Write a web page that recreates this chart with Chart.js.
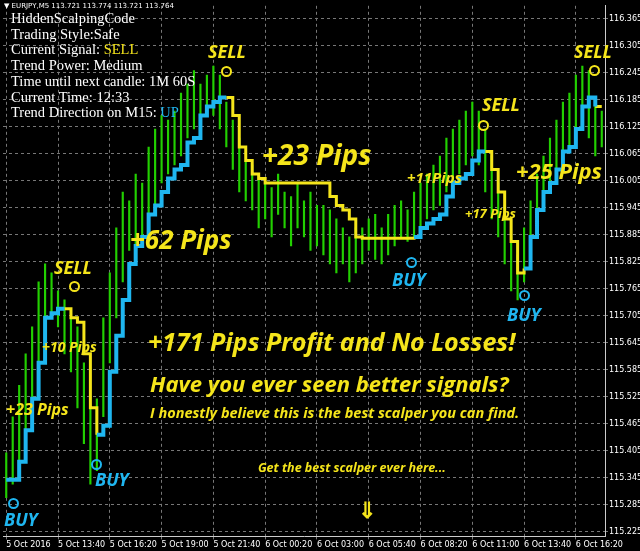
<!DOCTYPE html>
<html><head><meta charset="utf-8">
<script src="https://cdn.jsdelivr.net/npm/chart.js@4"></script>
<style>
html,body{margin:0;padding:0;background:#000;width:640px;height:551px;overflow:hidden}
#wrap{position:relative;width:640px;height:551px}
canvas{position:absolute;left:0;top:0}
.t{position:absolute;white-space:nowrap;font-family:"Open Sans",sans-serif;font-weight:bold;font-style:italic;color:#f5e51b;line-height:1}
.b{color:#1fb6f0}
.info{position:absolute;left:11px;top:11px;font-family:"Liberation Serif",serif;font-size:14.5px;color:#fff;line-height:15.7px}
.hdr{position:absolute;left:4px;top:2px;font-family:"DejaVu Sans",sans-serif;font-size:7px;color:#fff}
.c{position:absolute;width:7px;height:7px;border:2px solid;border-radius:50%}
</style></head><body>
<div id="wrap"><canvas id="c" width="640" height="551"></canvas>
<div class="hdr">▼ EURJPY,M5 113.721 113.774 113.721 113.764</div>
<div class="info">HiddenScalpingCode<br>Trading Style:Safe<br>Current Signal: <span style="color:#f5e51b">SELL</span><br>Trend Power: Medium<br>Time until next candle: 1M 60S<br>Current Time: 12:33<br>Trend Direction on M15: <span style="color:#1fb6f0">UP</span></div>
<div class="t" style="left:208px;top:42px;font-size:18px">SELL</div>
<div class="t" style="left:482px;top:95px;font-size:18px">SELL</div>
<div class="t" style="left:574px;top:42px;font-size:18px">SELL</div>
<div class="t" style="left:54px;top:258px;font-size:18px">SELL</div>
<div class="t" style="left:262px;top:140px;font-size:28px">+23 Pips</div>
<div class="t" style="left:130px;top:226px;font-size:26px">+62 Pips</div>
<div class="t" style="left:407px;top:170px;font-size:15px">+11Pips</div>
<div class="t" style="left:465px;top:207px;font-size:13px">+17 Pips</div>
<div class="t" style="left:516px;top:159px;font-size:22px">+25 Pips</div>
<div class="t" style="left:42px;top:340px;font-size:14px">+10 Pips</div>
<div class="t" style="left:6px;top:401px;font-size:16px">+23 Pips</div>
<div class="t" style="left:148px;top:329px;font-size:25px">+171 Pips Profit and No Losses!</div>
<div class="t" style="left:150px;top:372px;font-size:22px">Have you ever seen better signals?</div>
<div class="t" style="left:150px;top:406px;font-size:14.5px">I honestly believe this is the best scalper you can find.</div>
<div class="t" style="left:258px;top:462px;font-size:12.5px">Get the best scalper ever here...</div>
<div class="t" style="left:358px;top:498px;font-size:22px;font-style:normal">⇓</div>
<div class="t b" style="left:4px;top:510px;font-size:18px">BUY</div>
<div class="t b" style="left:95px;top:470px;font-size:18px">BUY</div>
<div class="t b" style="left:392px;top:270px;font-size:18px">BUY</div>
<div class="t b" style="left:507px;top:305px;font-size:18px">BUY</div>
<div class="c" style="left:221px;top:66px;border-color:#f5e51b"></div>
<div class="c" style="left:478px;top:120px;border-color:#f5e51b"></div>
<div class="c" style="left:589px;top:65px;border-color:#f5e51b"></div>
<div class="c" style="left:69px;top:281px;border-color:#f5e51b"></div>
<div class="c" style="left:8px;top:498px;border-color:#1fb6f0"></div>
<div class="c" style="left:91px;top:459px;border-color:#1fb6f0"></div>
<div class="c" style="left:406px;top:257px;border-color:#1fb6f0"></div>
<div class="c" style="left:519px;top:290px;border-color:#1fb6f0"></div>
</div>
<script>
const timeLabels=["5 Oct 2016","5 Oct 13:40","5 Oct 16:20","5 Oct 19:00","5 Oct 21:40","6 Oct 00:20","6 Oct 03:00","6 Oct 05:40","6 Oct 08:20","6 Oct 11:00","6 Oct 13:40","6 Oct 16:20"];
const lows=[115.30,115.33,115.38,115.45,115.50,115.58,115.66,115.70,115.68,115.62,115.58,115.50,115.42,115.33,115.36,115.48,115.60,115.70,115.78,115.85,115.86,115.88,115.92,115.95,116.00,116.02,116.04,116.06,116.10,116.12,116.14,116.16,116.15,116.12,116.08,116.03,115.98,115.96,115.94,115.90,115.92,115.88,115.93,115.90,115.86,115.90,115.88,115.85,115.86,115.84,115.82,115.80,115.82,115.78,115.80,115.82,115.85,115.83,115.82,115.84,115.86,115.88,115.87,115.88,115.90,115.92,115.94,115.95,115.98,116.00,116.02,116.04,116.06,116.04,115.98,115.92,115.88,115.82,115.76,115.74,115.78,115.84,115.90,115.94,115.98,116.02,116.06,116.08,116.12,116.16,116.10,116.06,116.08];
const highs=[115.40,115.48,115.55,115.62,115.68,115.78,115.82,115.80,115.76,115.74,115.70,115.68,115.60,115.50,115.52,115.70,115.80,115.90,115.98,115.96,116.02,116.00,116.08,116.12,116.15,116.14,116.16,116.20,116.22,116.25,116.22,116.24,116.26,116.24,116.18,116.14,116.10,116.05,116.04,116.02,116.00,115.99,116.02,115.98,115.97,116.00,115.96,115.98,115.95,115.95,115.94,115.92,115.90,115.88,115.90,115.90,115.92,115.93,115.90,115.93,115.95,115.96,115.94,115.98,116.00,116.02,116.04,116.06,116.10,116.12,116.14,116.16,116.18,116.16,116.12,116.06,116.00,115.95,115.88,115.84,115.90,115.96,116.02,116.06,116.10,116.14,116.18,116.20,116.24,116.26,116.25,116.18,116.16];
const signalLine=[115.34,115.34,115.38,115.45,115.52,115.60,115.70,115.71,115.72,115.72,115.70,115.69,115.62,115.50,115.44,115.46,115.58,115.66,115.74,115.82,115.86,115.88,115.93,115.95,115.98,116.01,116.03,116.04,116.09,116.10,116.15,116.17,116.18,116.19,116.19,116.15,116.08,116.05,116.02,116.01,116.00,116.00,116.00,116.00,116.00,116.00,116.00,116.00,116.00,116.00,115.97,115.95,115.94,115.92,115.88,115.877,115.877,115.877,115.877,115.877,115.877,115.877,115.877,115.88,115.90,115.91,115.92,115.93,115.97,116.00,116.01,116.02,116.05,116.07,116.07,116.03,115.98,115.92,115.87,115.80,115.81,115.88,115.94,115.98,116.00,116.03,116.07,116.08,116.12,116.17,116.19,116.17,116.17];
const segStarts=[0,9,14,34,63,74,80,91];
const segUp=[true,false,true,false,true,false,true,false];
const n=lows.length;
const labels=Array.from({length:n},(_,i)=>i%8===0?timeLabels[i/8]:"");
function seg(up){const a=new Array(n).fill(null);
 segStarts.forEach((s,k)=>{if(segUp[k]!==up)return;const e=k+1<segStarts.length?segStarts[k+1]:n-1;for(let i=s;i<=e;i++)a[i]=signalLine[i];});return a;}
const ticks=[];for(let k=0;k<20;k++)ticks.push(+(115.225+0.06*k).toFixed(3));
new Chart(document.getElementById('c'),{
 data:{labels,datasets:[
  {type:'bar',data:lows.map((l,i)=>[l,highs[i]]),backgroundColor:'#22d000',barThickness:1.5,order:3},
  {type:'line',data:seg(true),borderColor:'#1fb6f0',borderWidth:4,pointRadius:0,stepped:true,spanGaps:false,order:1},
  {type:'line',data:seg(false),borderColor:'#f5e51b',borderWidth:3,pointRadius:0,stepped:true,spanGaps:false,order:2}]},
 options:{responsive:false,animation:false,
  layout:{padding:{left:3,top:3,right:0,bottom:0}},
  plugins:{legend:{display:false},tooltip:{enabled:false}},
  scales:{
   x:{grid:{color:c=>labels[c.index]?'#777':'rgba(0,0,0,0)',offset:false,tickLength:3,lineWidth:1},border:{color:'#ccc',dash:[3,3]},
      ticks:{color:'#fff',font:{size:8,family:'DejaVu Sans'},autoSkip:false,maxRotation:0,padding:1,align:'start',callback:(v,i)=>labels[i]}},
   y:{position:'right',min:115.214,max:116.394,afterBuildTicks:a=>{a.ticks=ticks.map(v=>({value:v}));},
      afterFit:a=>{a.width=35;},
      grid:{color:'#777',tickLength:3},border:{color:'#ccc',dash:[3,3]},
      ticks:{color:'#fff',font:{size:8,family:'DejaVu Sans'},padding:1,callback:v=>v.toFixed(3)}}
  }},
 plugins:[{id:'bg',beforeDraw:c=>{const x=c.ctx;x.save();x.fillStyle='#000';x.fillRect(0,0,c.width,c.height);x.restore();}}]
});
</script></body></html>
